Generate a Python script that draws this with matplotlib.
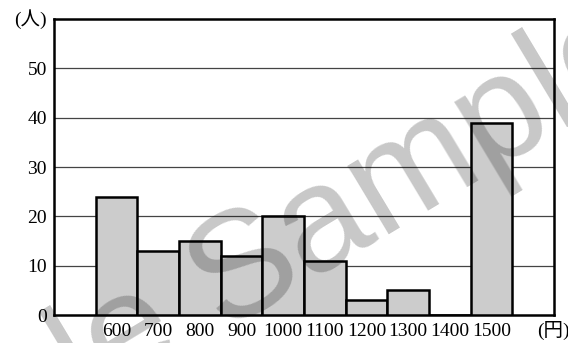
import matplotlib
matplotlib.use("Agg")
import matplotlib.pyplot as plt

prices = [600, 700, 800, 900, 1000, 1100, 1200, 1300, 1400, 1500]
counts = [24, 13, 15, 12, 20, 11, 3, 5, 0, 39]
y_ticks = [0, 10, 20, 30, 40, 50]
x_unit = "(円)"
y_unit = "(人)"
watermark = "Sample"

W, H, DPI = 568, 343, 100
fig = plt.figure(figsize=(W / DPI, H / DPI), dpi=DPI)
ax = fig.add_axes([54 / W, 1 - 315 / H, 500 / W, 296 / H])

fonts = ["Liberation Serif", "Noto Sans CJK JP"]

ax.bar(prices, counts, width=100, color="#cccccc", edgecolor="black",
       linewidth=1.8, zorder=3)
ax.set_xlim(450, 1650)
ax.set_ylim(0, 60)
ax.set_yticks(y_ticks)
ax.set_xticks(prices)
ax.set_xticklabels([str(p) for p in prices])
for lab in ax.get_xticklabels() + ax.get_yticklabels():
    lab.set_family(fonts)
    lab.set_fontsize(14)
ax.tick_params(length=0, pad=5)
ax.tick_params(axis="x", pad=6)
for y in y_ticks[1:]:
    ax.axhline(y, color="#444444", linewidth=0.9, zorder=1)
for s in ax.spines.values():
    s.set_linewidth(1.8)
    s.set_color("black")

fig.text(47 / W, 1 - 19 / H, y_unit, family=fonts, fontsize=14,
         ha="right", va="center")
fig.text(537 / W, 1 - 330 / H, x_unit, family=fonts, fontsize=14,
         ha="left", va="center")

for ax_, ay_ in [(222, 330), (-250, 608)]:
    fig.text(ax_ / W, 1 - ay_ / H, watermark, family=["Liberation Sans"],
             fontsize=108, color="black", alpha=0.22, rotation=31,
             rotation_mode="anchor", ha="left", va="baseline", zorder=10)

fig.savefig("out.png", dpi=DPI)
